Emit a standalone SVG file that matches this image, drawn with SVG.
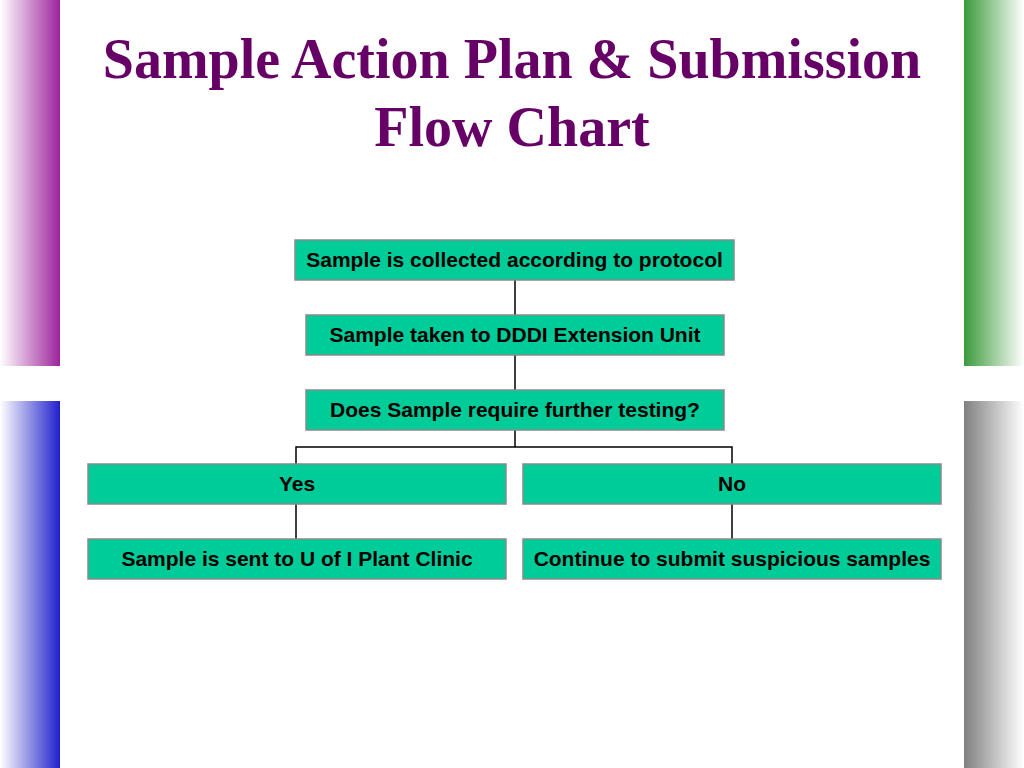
<svg xmlns="http://www.w3.org/2000/svg" width="1024" height="768" viewBox="0 0 1024 768">
<defs>
<linearGradient id="gPurple" x1="0" y1="0" x2="1" y2="0"><stop offset="0" stop-color="#ffffff"/><stop offset="1" stop-color="#9c249c"/></linearGradient>
<linearGradient id="gBlue" x1="0" y1="0" x2="1" y2="0"><stop offset="0" stop-color="#ffffff"/><stop offset="1" stop-color="#2020cc"/></linearGradient>
<linearGradient id="gGreen" x1="0" y1="0" x2="1" y2="0"><stop offset="0" stop-color="#3a9a3a"/><stop offset="1" stop-color="#ffffff"/></linearGradient>
<linearGradient id="gGray" x1="0" y1="0" x2="1" y2="0"><stop offset="0" stop-color="#808080"/><stop offset="1" stop-color="#ffffff"/></linearGradient>
</defs>
<style>
.box{fill:#00cc99;stroke:#8a8a8a;stroke-width:1.5}
.lbl{font-family:"Liberation Sans",Arial,sans-serif;font-weight:bold;font-size:21px;fill:#000;text-anchor:middle}
.title{font-family:"Liberation Serif","Times New Roman",serif;font-weight:bold;font-size:56px;fill:#660066;text-anchor:middle}
.conn{stroke:#000;stroke-width:1.5;fill:none}
</style>
<rect width="1024" height="768" fill="#ffffff"/>
<rect x="0" y="0" width="60" height="366" fill="url(#gPurple)"/>
<rect x="0" y="401" width="60" height="367" fill="url(#gBlue)"/>
<rect x="964" y="0" width="60" height="366" fill="url(#gGreen)"/>
<rect x="964" y="401" width="60" height="367" fill="url(#gGray)"/>
<text class="title" x="512" y="78">Sample Action Plan &amp; Submission</text>
<text class="title" x="512" y="146">Flow Chart</text>
<g id="connectors">
<path class="conn" d="M515 280V315M515 355V390M515 430V447M296 464V447H732V464M296 504V539M732 504V539"/>
</g>
<g id="n1"><rect class="box" x="295" y="240" width="439" height="40"/><text class="lbl" x="514.5" y="267">Sample is collected according to protocol</text></g>
<g id="n2"><rect class="box" x="306" y="315" width="418" height="40"/><text class="lbl" x="515" y="342">Sample taken to DDDI Extension Unit</text></g>
<g id="n3"><rect class="box" x="306" y="390" width="418" height="40"/><text class="lbl" x="515" y="417">Does Sample require further testing?</text></g>
<g id="n4"><rect class="box" x="88" y="464" width="418" height="40"/><text class="lbl" x="297" y="491">Yes</text></g>
<g id="n5"><rect class="box" x="523" y="464" width="418" height="40"/><text class="lbl" x="732" y="491">No</text></g>
<g id="n6"><rect class="box" x="88" y="539" width="418" height="40"/><text class="lbl" x="297" y="566">Sample is sent to U of I Plant Clinic</text></g>
<g id="n7"><rect class="box" x="523" y="539" width="418" height="40"/><text class="lbl" x="732" y="566">Continue to submit suspicious samples</text></g>
</svg>
